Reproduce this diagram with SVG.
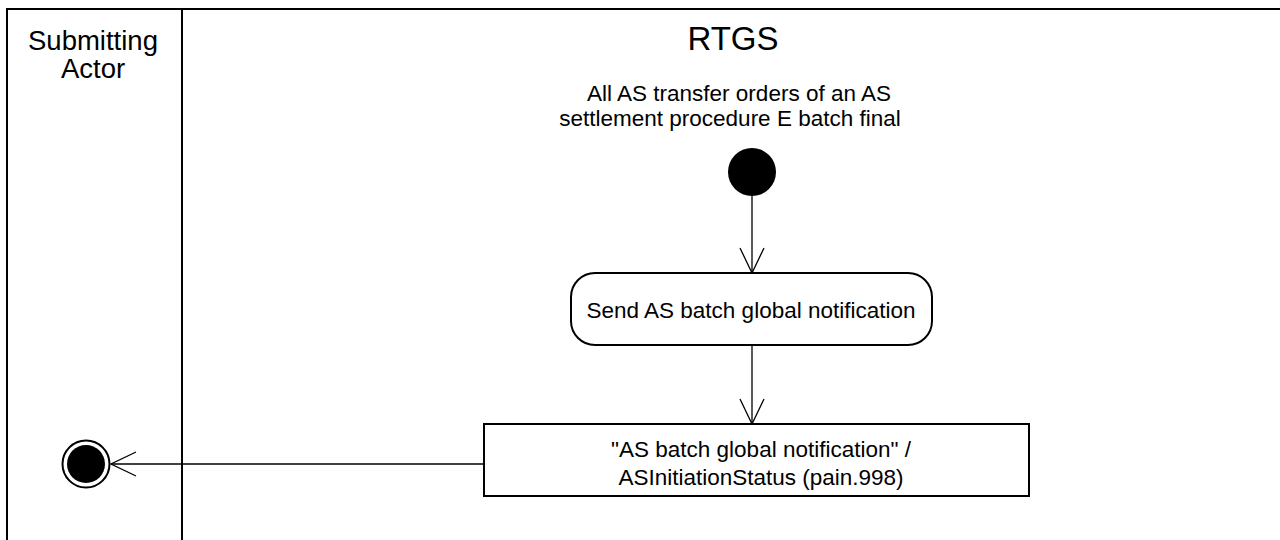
<svg xmlns="http://www.w3.org/2000/svg" width="1280" height="540" viewBox="0 0 1280 540">
<defs>
<style>
text{font-family:"Liberation Sans",Arial,sans-serif;fill:#000;text-anchor:middle}
.ln{stroke:#000;stroke-width:2;fill:none}
.cn{stroke:#000;stroke-width:1.3;fill:none}
.node{stroke:#000;stroke-width:2;fill:#fff}
.t{font-size:22.5px}
</style>
<marker id="open" markerWidth="30" markerHeight="30" refX="26" refY="13" orient="auto" markerUnits="userSpaceOnUse">
<path d="M1,1 L26,13 L1,25" fill="none" stroke="#000" stroke-width="1.3"/>
</marker>
</defs>
<rect width="1280" height="540" fill="#fff"/>
<g id="lanes">
<path class="ln" d="M7,545 V9 H1290"/>
<path class="ln" d="M182,9 V545"/>
<text x="93" y="50" font-size="27.5">Submitting</text>
<text x="93" y="78" font-size="27.5">Actor</text>
<text x="733" y="50" font-size="33">RTGS</text>
</g>
<g id="connectors">
<line class="cn" x1="752" y1="196" x2="752" y2="273" marker-end="url(#open)"/>
<line class="cn" x1="752" y1="345" x2="752" y2="424" marker-end="url(#open)"/>
<line class="cn" x1="484" y1="464" x2="111" y2="464" marker-end="url(#open)"/>
</g>
<g id="start">
<text class="t" x="739" y="101">All AS transfer orders of an AS</text>
<text class="t" x="730" y="126">settlement procedure E batch final</text>
<circle cx="752" cy="172" r="24" fill="#000"/>
</g>
<g id="send">
<rect class="node" x="571" y="273" width="361" height="72" rx="24"/>
<text class="t" x="751" y="318">Send AS batch global notification</text>
</g>
<g id="message">
<rect class="node" x="484" y="424" width="545" height="72"/>
<text class="t" x="761" y="457">"AS batch global notification" /</text>
<text class="t" x="761" y="485">ASInitiationStatus (pain.998)</text>
</g>
<g id="end">
<circle cx="86" cy="464" r="23.5" fill="#fff" stroke="#000" stroke-width="2"/>
<circle cx="86" cy="464" r="19" fill="#000"/>
</g>
</svg>
